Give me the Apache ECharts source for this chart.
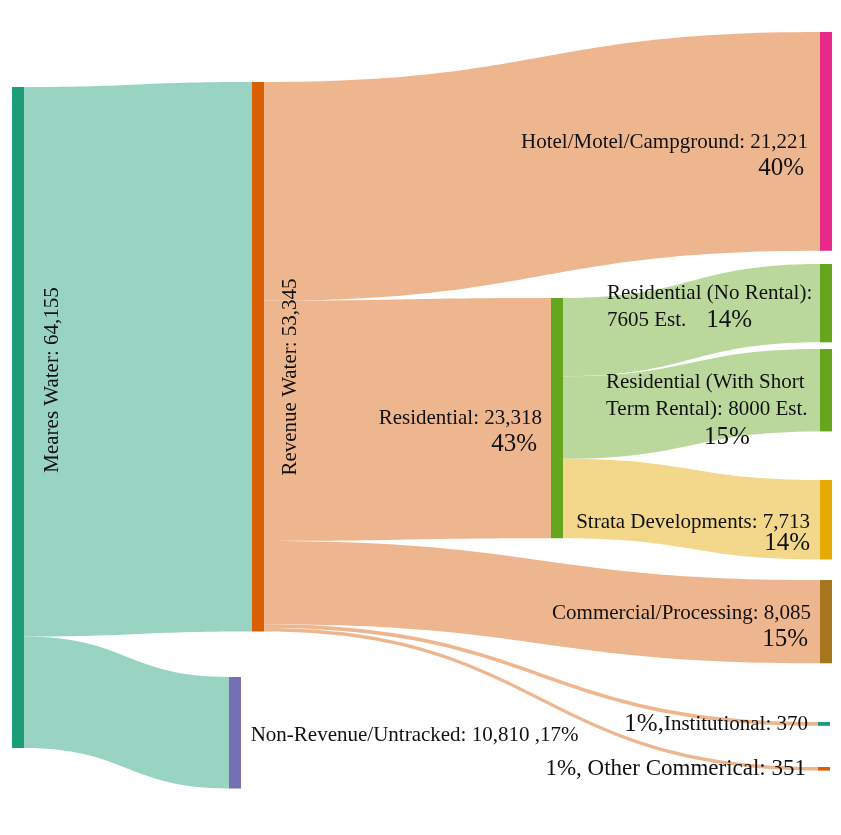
<!DOCTYPE html>
<html><head><meta charset="utf-8">
<script src="https://cdn.jsdelivr.net/npm/echarts@6/dist/echarts.min.js"></script>
<style>html,body{margin:0;padding:0;background:#fff}#c{width:841px;height:835px}</style>
</head><body><div id="c"></div>
<script>
// ---- data ----
const nodeNames = ['Meares Water','Revenue Water','Non-Revenue/Untracked','Hotel/Motel/Campground','Residential',
  'Commercial/Processing','Institutional','Other Commerical','Residential (No Rental)',
  'Residential (With Short Term Rental)','Strata Developments'];
const linkSources = ['Meares Water','Meares Water','Revenue Water','Revenue Water','Revenue Water','Revenue Water','Revenue Water','Residential','Residential','Residential'];
const linkTargets = ['Revenue Water','Non-Revenue/Untracked','Hotel/Motel/Campground','Residential','Commercial/Processing','Institutional','Other Commerical','Residential (No Rental)','Residential (With Short Term Rental)','Strata Developments'];
const linkValues = [53345, 10810, 21221, 23318, 8085, 370, 351, 7605, 8000, 7713];
const valueTexts = ['64,155','53,345','10,810','21,221','23,318','8,085','370','351','7605 Est.','8000 Est.','7,713'];
const percentTexts = ['','','17%','40%','43%','15%','1%','1%','14%','15%','14%'];

// ---- layout / style ----
const W = 841, H = 661;
const F = "'Liberation Serif','Times New Roman',Times,serif";
const nodeColors = ['#1b9e77','#d95f02','#7570b3','#e7298a','#66a61e','#a6761d','#1b9e77','#d95f02','#66a61e','#66a61e','#e6ab02'];
const nodeDepth = [0,1,1,2,2,2,2,2,3,3,3];
const nodeX = [12,252,229,820,551,820,818,818,820,820,820];
const nodeY = [87,82,677,32,298,580,722,767,264,349,480];
const linkColors = ['#99d4c3','#99d4c3','#eeb68e','#eeb68e','#eeb68e','#eeb68e','#eeb68e','#bad89b','#bad89b','#f3d78a'];

function rs(size, lh, align, pad){ return {fontSize:size, lineHeight:lh, fontFamily:F, color:'#111', align:align, padding:pad||[0,0,0,0]}; }

const v = valueTexts, p = percentTexts;
const labels = [
  {position:[40,293], rotate:90, align:'center', verticalAlign:'middle',
   formatter:'{t|Meares Water: ' + v[0] + '}', rich:{t:rs(21,24,'center')}},
  {position:[38.5,295], rotate:90, align:'center', verticalAlign:'middle',
   formatter:'{t|Revenue Water: ' + v[1] + '}', rich:{t:rs(21,24,'center')}},
  {position:[21.7,58], align:'left', verticalAlign:'middle',
   formatter:'{t|Non-Revenue/Untracked: ' + v[2] + ' ,' + p[2] + '}', rich:{t:rs(21,24,'left')}},
  {position:[-12,123], align:'right', verticalAlign:'middle',
   formatter:'{t|Hotel/Motel/Campground: ' + v[3] + '}\n{p|' + p[3] + '}',
   rich:{t:rs(21,26,'right'), p:rs(25,26,'right',[0,4,0,0])}},
  {position:[-9,133], align:'right', verticalAlign:'middle',
   formatter:'{t|Residential: ' + v[4] + '}\n{p|' + p[4] + '}',
   rich:{t:rs(21,26,'right'), p:rs(25,26,'right',[0,5,0,0])}},
  {position:[-9,46], align:'right', verticalAlign:'middle',
   formatter:'{t|Commercial/Processing: ' + v[5] + '}\n{p|' + p[5] + '}',
   rich:{t:rs(21,26,'right'), p:rs(25,26,'right',[0,3,0,0])}},
  {position:[-10,2], align:'right', verticalAlign:'middle',
   formatter:'{p|' + p[6] + ',}{t|Institutional: ' + v[6] + '}',
   rich:{t:rs(21,26,'right'), p:rs(25,26,'right')}},
  {position:[-12,2], align:'right', verticalAlign:'middle',
   formatter:'{o|' + p[7] + ', Other Commerical: ' + v[7] + '}',
   rich:{o:rs(23,26,'right')}},
  {position:[-213,43], align:'left', verticalAlign:'middle',
   formatter:'{t|Residential (No Rental):}\n{t|' + v[8] + '}{q|' + p[8] + '}',
   rich:{t:rs(21,27,'left'), q:rs(25,27,'left',[0,0,0,20])}},
  {position:[-214,61], align:'left', verticalAlign:'middle',
   formatter:'{t|Residential (With Short}\n{t|Term Rental): ' + v[9] + '}\n{q|' + p[9] + '}',
   rich:{t:rs(21,27,'left'), q:rs(25,28,'left',[0,0,0,98])}},
  {position:[-10,52.5], align:'right', verticalAlign:'middle',
   formatter:'{t|Strata Developments: ' + v[10] + '}\n{p|' + p[10] + '}',
   rich:{t:rs(21,21,'right'), p:rs(25,21,'right')}}
];

const nodes = nodeNames.map((name, i) => ({
  name: name,
  depth: nodeDepth[i],
  localX: nodeX[i] / W,
  localY: nodeY[i] / H,
  itemStyle: {color: nodeColors[i], borderWidth: 0},
  label: Object.assign({show:true, color:'#111', fontFamily:F, textBorderWidth:0}, labels[i])
}));
const links = linkValues.map((val, i) => ({
  source: linkSources[i], target: linkTargets[i], value: val,
  lineStyle: {color: linkColors[i], opacity: 1}
}));

const chart = echarts.init(document.getElementById('c'), null, {renderer:'canvas'});
chart.setOption({
  backgroundColor: '#ffffff',
  animation: false,
  series: [{
    type: 'sankey',
    left: 0, top: 0, width: W, height: H,
    nodeWidth: 12, nodeGap: 0,
    layoutIterations: 0,
    draggable: false,
    emphasis: {disabled: true},
    lineStyle: {curveness: 0.5, opacity: 1},
    data: nodes,
    links: links
  }]
});
</script>
</body></html>
